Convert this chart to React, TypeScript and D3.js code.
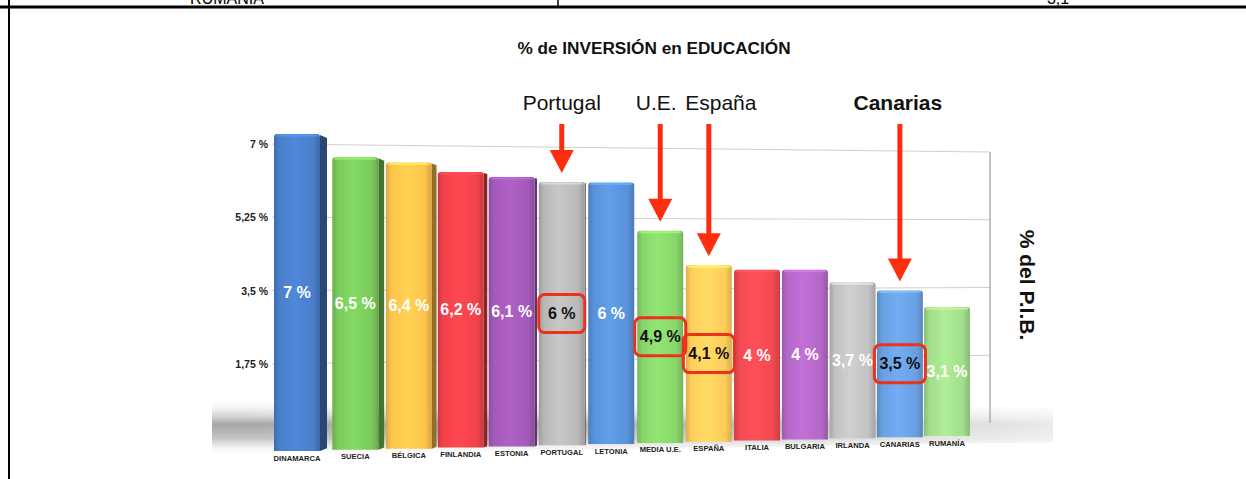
import React from 'react';
import * as d3 from 'd3';

// data
const countries = ['DINAMARCA', 'SUECIA', 'BÉLGICA', 'FINLANDIA', 'ESTONIA', 'PORTUGAL', 'LETONIA',
  'MEDIA U.E.', 'ESPAÑA', 'ITALIA', 'BULGARIA', 'IRLANDA', 'CANARIAS', 'RUMANÍA'];
const values = [7, 6.5, 6.4, 6.2, 6.1, 6, 6, 4.9, 4.1, 4, 4, 3.7, 3.5, 3.1];
const valueLabels = ['7 %', '6,5 %', '6,4 %', '6,2 %', '6,1 %', '6 %', '6 %',
  '4,9 %', '4,1 %', '4 %', '4 %', '3,7 %', '3,5 %', '3,1 %'];
const yTicks = [1.75, 3.5, 5.25, 7];
const yTickLabels = ['1,75 %', '3,5 %', '5,25 %', '7 %'];
const calloutLabels = ['Portugal', 'U.E.', 'España', 'Canarias'];
const calloutTargets = ['PORTUGAL', 'MEDIA U.E.', 'ESPAÑA', 'CANARIAS'];

const barColors = ['#4a7fcb', '#7acb5c', '#fec44c', '#f2424b', '#a45ab9', '#b9b9b9', '#5a92da',
  '#88d66b', '#ffcd5c', '#f24a53', '#b468c8', '#c2c2c2', '#6aa0e2', '#a3de8c'];
const calloutStyle: Record<string, { dx: number, bold: boolean }> = {
  'Portugal': { dx: 0, bold: false },
  'U.E.': { dx: -4, bold: false },
  'España': { dx: 12, bold: false },
  'Canarias': { dx: -2, bold: true },
};

const W = 1246;
const H = 479;
const FONT = '"Liberation Sans", Arial, Helvetica, sans-serif';
const RED = '#ff2d0f';

export default function App() {
  const n = countries.length;

  // fake perspective: bars get narrower spacing and a shorter unit further right
  const xCenter = d3.scalePow().exponent(0.94).domain([0, n - 1]).range([297, 947]);
  const base = d3.scaleLinear().domain([0, n - 1]).range([451, 436]);
  const unit = d3.scaleLinear().domain([0, n - 1]).range([45.3, 41.6]);
  const depth = d3.scaleLinear().domain([0, 6]).range([7, 0]).clamp(true);
  const yBar = (i: number) => d3.scaleLinear().domain([0, 7]).range([base(i), base(i) - 7 * unit(i)]);

  // back wall
  const wallLeft = d3.scaleLinear().domain([0, 7]).range([437, 144]);
  const wallRight = d3.scaleLinear().domain([0, 7]).range([423, 152]);
  const wallX0 = 272;
  const wallX1 = 990;

  const bw = 46;

  const barPath = (x0: number, x1: number, y0: number, y1: number, r: number) =>
    `M${x0},${y1} L${x0},${y0 + r} Q${x0},${y0} ${x0 + r},${y0} L${x1 - r},${y0} Q${x1},${y0} ${x1},${y0 + r} L${x1},${y1} Z`;

  const gradients = barColors.map((c, i) => {
    const col = d3.color(c)!;
    return (
      <linearGradient key={i} id={'bar' + i} x1="0" x2="1" y1="0" y2="0">
        <stop offset="0" stopColor={col.darker(0.45).formatHex()} />
        <stop offset="0.12" stopColor={c} />
        <stop offset="0.45" stopColor={col.brighter(0.2).formatHex()} />
        <stop offset="0.85" stopColor={c} />
        <stop offset="1" stopColor={col.darker(0.5).formatHex()} />
      </linearGradient>
    );
  });

  const bars = countries.map((name, i) => {
    const y = yBar(i);
    const cx = xCenter(i);
    const x0 = cx - bw / 2;
    const x1 = cx + bw / 2;
    const top = y(values[i]);
    const bottom = y(0);
    const d = depth(i);
    const col = d3.color(barColors[i])!;
    return (
      <g key={name}>
        {d > 0.5 &&
          <polygon
            points={`${x1},${top + 1} ${x1 + d},${top + d * 0.6} ${x1 + d},${bottom - d * 0.4} ${x1},${bottom}`}
            fill={col.darker(1.6).formatHex()} />}
        <path d={barPath(x0, x1, top, bottom, 3)} fill={`url(#bar${i})`} />
        <path d={`M${x0 + 2},${top + 1.5} L${x1 - 2},${top + 1.5}`}
              stroke={col.brighter(0.6).formatHex()} strokeWidth={2} opacity={0.7} />
      </g>
    );
  });

  const valueTexts = countries.map((name, i) => {
    const y = yBar(i);
    const mid = (y(values[i]) + y(0)) / 2;
    const cx = xCenter(i);
    const hl = calloutTargets.includes(name);
    const boxW = valueLabels[i].length <= 3 ? 46 : 51;
    return (
      <g key={name}>
        {hl &&
          <rect x={cx - boxW / 2} y={mid - 19} width={boxW} height={38} rx={6}
                fill="none" stroke="#ea321c" strokeWidth={3} />}
        <text x={cx} y={mid} textAnchor="middle" dominantBaseline="central"
              fontFamily={FONT} fontWeight="bold" fontSize={16}
              fill={hl ? '#111' : '#fff'}>
          {valueLabels[i]}
        </text>
      </g>
    );
  });

  const xLabels = countries.map((name, i) => (
    <text key={name} x={xCenter(i)} y={base(i) + 7} textAnchor="middle" dominantBaseline="central"
          fontFamily={FONT} fontWeight="bold" fontSize={7.6} fill="#222">
      {name}
    </text>
  ));

  const grid = yTicks.map((t, i) => (
    <g key={t}>
      <line x1={wallX0} x2={wallX1} y1={wallLeft(t)} y2={wallRight(t)} stroke="#cfcfcf" strokeWidth={1} />
      <text x={268} y={wallLeft(t)} textAnchor="end" dominantBaseline="central"
            fontFamily={FONT} fontWeight="bold" fontSize={10.5} fill="#222">
        {yTickLabels[i]}
      </text>
    </g>
  ));

  const callouts = calloutLabels.map((label, k) => {
    const i = countries.indexOf(calloutTargets[k]);
    const cx = xCenter(i);
    const tip = yBar(i)(values[i]) - 9;
    const st = calloutStyle[label];
    return (
      <g key={label}>
        <text x={cx + st.dx} y={110} textAnchor="middle" fontFamily={FONT} fontSize={21}
              fontWeight={st.bold ? 'bold' : 'normal'} fill="#111">
          {label}
        </text>
        <rect x={cx - 2.5} y={124} width={5} height={tip - 22 - 124 + 1} fill={RED} />
        <polygon points={`${cx - 12},${tip - 23} ${cx + 12},${tip - 23} ${cx},${tip}`} fill={RED} />
      </g>
    );
  });

  return (
    <svg width={W} height={H} style={{ position: 'absolute', left: 0, top: 0, background: '#fff' }}>
      <defs>
        {gradients}
        <linearGradient id="floorV" x1="0" x2="0" y1="0" y2="1">
          <stop offset="0" stopColor="#fff" stopOpacity={0} />
          <stop offset="0.45" stopColor="#a6a6a6" />
          <stop offset="0.7" stopColor="#c4c4c4" />
          <stop offset="1" stopColor="#fff" stopOpacity={0} />
        </linearGradient>
        <linearGradient id="floorH" x1="0" x2="1" y1="0" y2="0">
          <stop offset="0" stopColor="#fff" stopOpacity={0} />
          <stop offset="0.6" stopColor="#fff" stopOpacity={0.2} />
          <stop offset="1" stopColor="#fff" stopOpacity={0.75} />
        </linearGradient>
      </defs>

      {/* page table borders, row above is cut off as in the source */}
      <line x1={0} x2={W} y1={7} y2={7} stroke="#000" strokeWidth={3} />
      <line x1={9} x2={9} y1={0} y2={H} stroke="#000" strokeWidth={2} />
      <line x1={558} x2={558} y1={0} y2={7} stroke="#000" strokeWidth={1.5} />
      <text x={227} y={4} textAnchor="middle" fontFamily={FONT} fontSize={16} fill="#000">RUMANÍA</text>
      <text x={1058} y={4} textAnchor="middle" fontFamily={FONT} fontSize={16} fill="#000">3,1</text>

      <text x={654} y={54} textAnchor="middle" fontFamily={FONT} fontWeight="bold" fontSize={17.2} fill="#111">
        % de INVERSIÓN en EDUCACIÓN
      </text>

      {/* floor shadow */}
      <polygon points="212,398 1053,408 1053,442 212,456" fill="url(#floorV)" />
      <polygon points="212,398 1053,408 1053,442 212,456" fill="url(#floorH)" />

      {grid}
      <line x1={wallX1} x2={wallX1} y1={wallRight(7)} y2={wallRight(0)} stroke="#888" strokeWidth={1} />

      {bars}
      {valueTexts}
      {xLabels}
      {callouts}

      <text transform="translate(1027,285) rotate(90)" textAnchor="middle" dominantBaseline="central"
            fontFamily={FONT} fontWeight="bold" fontSize={21} fill="#111">
        % del P.I.B.
      </text>
    </svg>
  );
}
